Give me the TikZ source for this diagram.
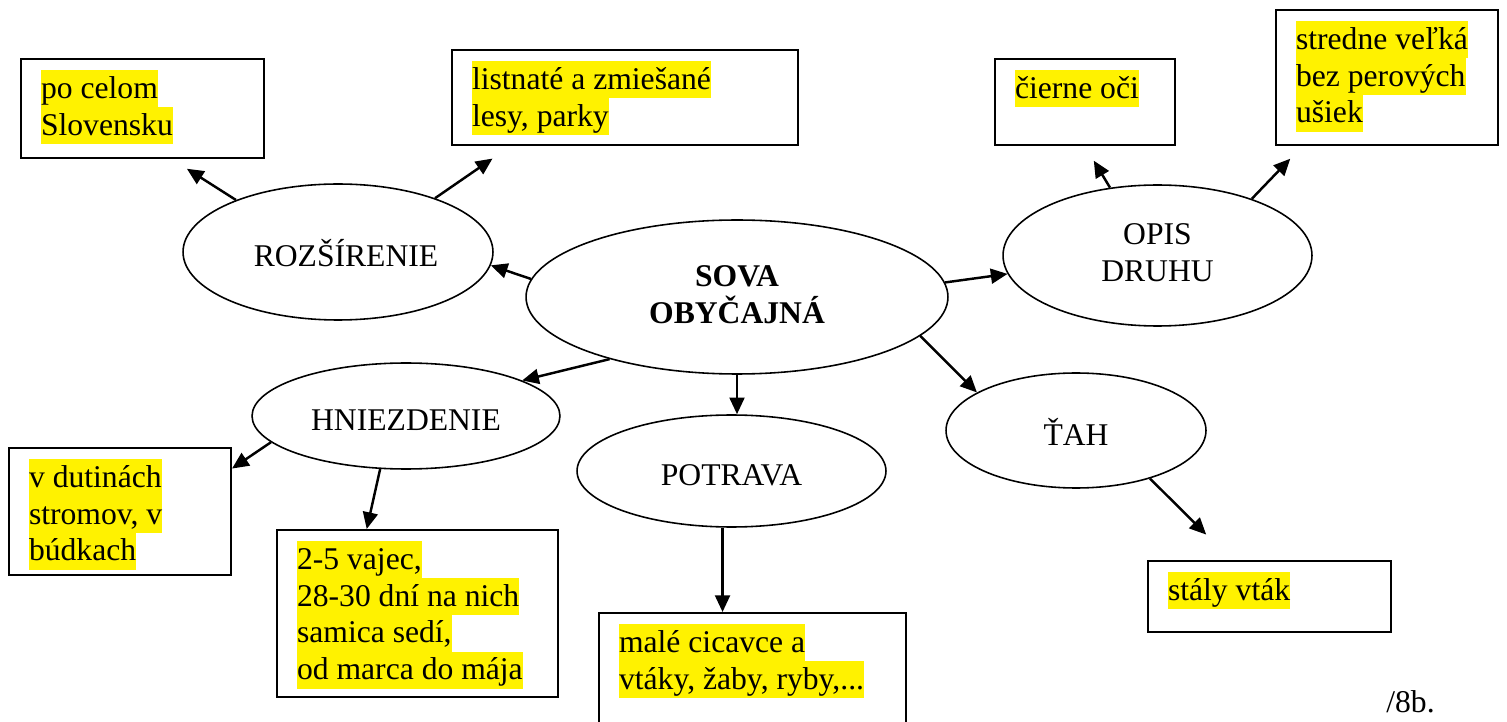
\documentclass[tikz,border=0pt]{standalone}
\usepackage{fontspec}
\setmainfont{Liberation Serif}
\usetikzlibrary{shapes.geometric,arrows.meta}
\newcommand{\hl}[1]{{\setlength{\fboxsep}{0pt}\colorbox{yellow}{\rule[-5pt]{0pt}{21pt}#1}}}
\begin{document}
\begin{tikzpicture}[x=0.02cm,y=-0.02cm,
  every node/.style={font=\fontsize{18pt}{21pt}\selectfont},
  infobox/.style={draw, line width=1.2pt, anchor=north west, inner xsep=0.4cm, inner ysep=0.22cm},
  topic/.style={draw, ellipse, line width=0.9pt, inner sep=0pt, text height=17pt, text depth=0pt, align=center},
  maintopic/.style={topic, text height=37pt, text depth=7pt},
  link/.style={line width=1.4pt, -{Triangle[length=9.5pt,width=8.5pt]}}
]
\useasboundingbox (0,0) rectangle (1507,722);
\clip (0,0) rectangle (1507,722);

% central and topic ellipses
\node[maintopic, minimum width=8.44cm, minimum height=3.08cm] (sova) at (737,297) {\textbf{SOVA}\\\textbf{OBYČAJNÁ}};
\node[topic, minimum width=6.2cm, minimum height=2.72cm] (roz) at (338,252) {\hspace*{0.32cm}ROZŠÍRENIE};
\node[maintopic, minimum width=6.18cm, minimum height=2.82cm] (opis) at (1157.5,255.5) {OPIS\\DRUHU};
\node[topic, minimum width=6.16cm, minimum height=2.12cm] (hniez) at (406,416) {HNIEZDENIE};
\node[topic, minimum width=6.18cm, minimum height=2.24cm] (potrava) at (731.5,471) {POTRAVA};
\node[topic, minimum width=5.2cm, minimum height=2.3cm] (tah) at (1076,430.5) {ŤAH};

% info boxes
\node[infobox] (b1) at (20,58) {\parbox[t][1.54cm][t]{4.06cm}{\hl{po celom}\\\hl{Slovensku}}};
\node[infobox] (b2) at (451,49) {\parbox[t][1.46cm][t]{6.12cm}{\hl{listnaté a zmiešané}\\\hl{lesy, parky}}};
\node[infobox] (b3) at (994,58) {\parbox[t][1.28cm][t]{2.8cm}{\hl{čierne oči}}};
\node[infobox] (b4) at (1275,9) {\parbox[t][2.26cm][t]{3.64cm}{\hl{stredne veľká}\\\hl{bez perových}\\\hl{ušiek}}};
\node[infobox] (b5) at (8,447) {\parbox[t][2.1cm][t]{3.64cm}{\hl{v dutinách}\\\hl{stromov, v}\\\hl{búdkach}}};
\node[infobox] (b6) at (276,529) {\parbox[t][2.9cm][t]{4.82cm}{\hl{2-5 vajec,}\\\hl{28-30 dní na nich}\\\hl{samica sedí,}\\\hl{od marca do mája}}};
\node[infobox] (b7) at (598,612) {\parbox[t][2.52cm][t]{5.34cm}{\hl{malé cicavce a}\\\hl{vtáky, žaby, ryby,...}}};
\node[infobox] (b8) at (1147,560) {\parbox[t][0.98cm][t]{4.06cm}{\hl{stály vták}}};

\node[anchor=base west, inner sep=0pt] (score) at (1386,712) {/8b.};

% connectors
\draw[link] (sova.175.9) -- (roz.-5.2);
\draw[link] (sova.4.4) -- (opis.-173.9);
\draw[link] (sova.206.4) -- (hniez.17.3);
\draw[link] (sova.south) -- (sova.south |- potrava.north);
\draw[link] (sova.-12.3) -- (tah.159.4);
\draw[link, shorten >=0.36cm] (roz.153) -- (b1.-60.1);
\draw[link, shorten >=0.44cm] (roz.29.1) -- (b2.-157.4);
\draw[link, shorten >=0.34cm] (opis.125.1) -- (b3.south);
\draw[link, shorten >=0.35cm] (opis.31) -- (b4.219.5);
\draw[link] (hniez.191.5) -- (b5.21.4);
\draw[link] (hniez.244.8) -- (b6.121.2);
\draw[link] (potrava.-99.3) -- (potrava.-99.3 |- b7.north);
\draw[link, shorten >=0.72cm] (tah.-33.6) -- (b8.136.6);
\end{tikzpicture}
\end{document}
